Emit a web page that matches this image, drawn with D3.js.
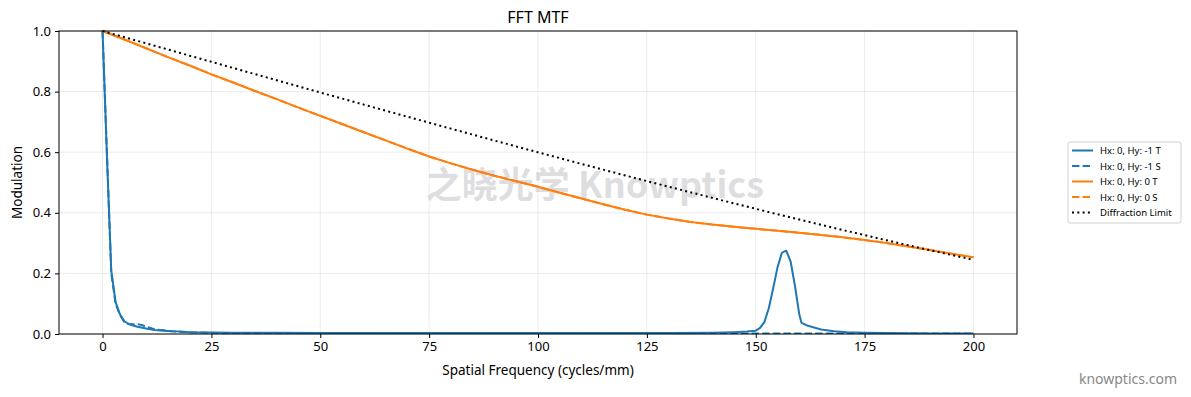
<!DOCTYPE html>
<html>
<head>
<meta charset="utf-8">
<script src="https://cdn.jsdelivr.net/npm/d3@7"></script>
<style>
  body { margin: 0; background: #fff; }
  svg { display: block; font-family: "Noto Sans", "Open Sans", sans-serif; }
</style>
</head>
<body>
<svg id="chart" width="1191" height="397"></svg>
<script>
// ---------- data ----------
const xTicks = [0, 25, 50, 75, 100, 125, 150, 175, 200];
const yTicks = [0.0, 0.2, 0.4, 0.6, 0.8, 1.0];

const seriesNames = ["Hx: 0, Hy: -1 T", "Hx: 0, Hy: -1 S", "Hx: 0, Hy: 0 T", "Hx: 0, Hy: 0 S", "Diffraction Limit"];

const blueTFreq = [0, 1, 2, 3, 4, 5, 6, 7, 8, 10, 12, 14, 16, 18, 20, 25, 30, 40, 50, 60, 70, 80, 90, 100, 110, 120, 130, 140, 145, 148, 150, 151, 152, 153, 154, 155, 156, 157, 158, 159, 160, 160.5, 162, 165, 168, 171, 175, 180, 190, 200];
const blueTVals = [1.0, 0.59, 0.21, 0.105, 0.065, 0.042, 0.033, 0.028, 0.024, 0.018, 0.013, 0.011, 0.009, 0.008, 0.006, 0.005, 0.004, 0.004, 0.003, 0.003, 0.003, 0.003, 0.003, 0.003, 0.003, 0.003, 0.003, 0.004, 0.006, 0.008, 0.011, 0.02, 0.04, 0.085, 0.15, 0.22, 0.268, 0.275, 0.24, 0.16, 0.065, 0.037, 0.027, 0.015, 0.009, 0.006, 0.004, 0.003, 0.002, 0.002];

const blueSFreq = [0, 1, 2, 3, 4, 5, 6, 7, 8, 9, 10, 11, 12, 14, 16, 18, 20, 25, 30, 40, 60, 80, 100, 120, 140, 160, 180, 200];
const blueSVals = [1.0, 0.6, 0.2, 0.1, 0.062, 0.04, 0.033, 0.032, 0.032, 0.03, 0.024, 0.02, 0.015, 0.012, 0.009, 0.007, 0.006, 0.004, 0.003, 0.003, 0.002, 0.002, 0.002, 0.002, 0.002, 0.002, 0.002, 0.002];

const orangeFreq = [0, 5, 10, 15, 20, 25, 30, 35, 40, 45, 50, 55, 60, 65, 70, 75, 80, 85, 90, 95, 100, 105, 110, 115, 120, 125, 130, 135, 140, 145, 150, 155, 160, 165, 170, 175, 180, 185, 190, 195, 200];
const orangeTVals = [1.0, 0.972, 0.943, 0.914, 0.886, 0.857, 0.83, 0.802, 0.775, 0.747, 0.72, 0.693, 0.666, 0.639, 0.612, 0.586, 0.563, 0.542, 0.522, 0.504, 0.486, 0.466, 0.447, 0.428, 0.41, 0.394, 0.381, 0.37, 0.361, 0.354, 0.347, 0.341, 0.334, 0.327, 0.319, 0.31, 0.3, 0.289, 0.277, 0.265, 0.253];
const orangeSVals = [1.0, 0.972, 0.943, 0.914, 0.886, 0.857, 0.83, 0.802, 0.775, 0.747, 0.72, 0.693, 0.666, 0.639, 0.612, 0.586, 0.563, 0.542, 0.522, 0.504, 0.486, 0.466, 0.447, 0.428, 0.41, 0.394, 0.381, 0.37, 0.361, 0.354, 0.347, 0.341, 0.334, 0.327, 0.319, 0.31, 0.3, 0.289, 0.277, 0.265, 0.253];

const diffFreq = [0, 10, 20, 30, 40, 50, 60, 70, 80, 90, 100, 110, 120, 130, 140, 150, 160, 170, 180, 190, 200];
const diffVals = [1.0, 0.9593, 0.9186, 0.8779, 0.8375, 0.7971, 0.757, 0.7172, 0.6777, 0.6384, 0.5996, 0.5613, 0.5234, 0.486, 0.4493, 0.4132, 0.3778, 0.3432, 0.3095, 0.2766, 0.2448];

// ---------- layout ----------
const svg = d3.select("#chart");
const margin = { left: 59, right: 1017, top: 31, bottom: 334 };

const x = d3.scaleLinear().domain([-10, 210]).range([margin.left, margin.right]);
const y = d3.scaleLinear().domain([0, 1]).range([margin.bottom, margin.top]);

// grid
const grid = svg.append("g");
grid.selectAll("line.vx").data(xTicks).enter().append("line")
  .attr("x1", d => x(d)).attr("x2", d => x(d))
  .attr("y1", margin.top).attr("y2", margin.bottom)
  .attr("stroke", "#b0b0b0").attr("stroke-opacity", 0.3).attr("stroke-width", 0.8);
grid.selectAll("line.hy").data(yTicks).enter().append("line")
  .attr("x1", margin.left).attr("x2", margin.right)
  .attr("y1", d => y(d)).attr("y2", d => y(d))
  .attr("stroke", "#b0b0b0").attr("stroke-opacity", 0.3).attr("stroke-width", 0.8);

// watermark
svg.append("text")
  .attr("x", 595).attr("y", 198)
  .attr("text-anchor", "middle")
  .attr("font-size", 36).attr("font-weight", "bold")
  .attr("fill", "#c8c8cc").attr("fill-opacity", 0.6)
  .attr("font-family", "'Noto Sans CJK SC', 'Noto Sans', sans-serif")
  .text("之晓光学 Knowptics");

// clip
svg.append("clipPath").attr("id", "clip").append("rect")
  .attr("x", margin.left).attr("y", margin.top - 2)
  .attr("width", margin.right - margin.left).attr("height", margin.bottom - margin.top + 2);

const line = d3.line().x(d => x(d[0])).y(d => y(d[1]));
const zip = (a, b) => a.map((v, i) => [v, b[i]]);

const series = [
  { name: seriesNames[0], data: zip(blueTFreq, blueTVals), color: "#1f77b4", dash: null },
  { name: seriesNames[1], data: zip(blueSFreq, blueSVals), color: "#1f77b4", dash: "7.4,3.2" },
  { name: seriesNames[2], data: zip(orangeFreq, orangeTVals), color: "#ff7f0e", dash: null },
  { name: seriesNames[3], data: zip(orangeFreq, orangeSVals), color: "#ff7f0e", dash: "7.4,3.2" },
  { name: seriesNames[4], data: zip(diffFreq, diffVals), color: "#000000", dash: "2,3.3" }
];

const plot = svg.append("g").attr("clip-path", "url(#clip)");
series.forEach(s => {
  plot.append("path")
    .attr("d", line(s.data))
    .attr("fill", "none")
    .attr("stroke", s.color)
    .attr("stroke-width", 2)
    .attr("stroke-dasharray", s.dash)
    .attr("stroke-linejoin", "round");
});

// axes
const xAxis = d3.axisBottom(x).tickValues(xTicks).tickFormat(d3.format("d")).tickSize(4).tickPadding(4);
const yAxis = d3.axisLeft(y).tickValues(yTicks).tickFormat(d3.format(".1f")).tickSize(4).tickPadding(4);

const gx = svg.append("g").attr("transform", `translate(0,${margin.bottom})`).call(xAxis);
const gy = svg.append("g").attr("transform", `translate(${margin.left},0)`).call(yAxis);
[gx, gy].forEach(g => {
  g.select(".domain").remove();
  g.selectAll("text").attr("font-size", 13).attr("fill", "#000").attr("font-family", "'Noto Sans', sans-serif");
  g.selectAll("line").attr("stroke", "#000");
});

// frame
svg.append("rect")
  .attr("x", margin.left).attr("y", margin.top)
  .attr("width", margin.right - margin.left).attr("height", margin.bottom - margin.top)
  .attr("fill", "none").attr("stroke", "#000").attr("stroke-width", 1);

// title and labels
svg.append("text").attr("x", (margin.left + margin.right) / 2).attr("y", 23)
  .attr("text-anchor", "middle").attr("font-size", 16).text("FFT MTF");
svg.append("text").attr("x", (margin.left + margin.right) / 2).attr("y", 375)
  .attr("text-anchor", "middle").attr("font-size", 13.5).text("Spatial Frequency (cycles/mm)");
svg.append("text").attr("transform", `translate(22,${(margin.top + margin.bottom) / 2}) rotate(-90)`)
  .attr("text-anchor", "middle").attr("font-size", 13.5).text("Modulation");

// legend
const lg = svg.append("g").attr("transform", "translate(1068,142)");
lg.append("rect").attr("x", 0).attr("y", 0).attr("width", 113).attr("height", 81)
  .attr("fill", "#fff").attr("stroke", "#d0d0d0").attr("rx", 2);
series.forEach((s, i) => {
  const yy = 8.5 + i * 15.5;
  lg.append("line").attr("x1", 4).attr("x2", 25).attr("y1", yy).attr("y2", yy)
    .attr("stroke", s.color).attr("stroke-width", 2).attr("stroke-dasharray", s.dash);
  lg.append("text").attr("x", 32).attr("y", yy + 3.5).attr("font-size", 9.5).text(s.name);
});

// footer
svg.append("text").attr("x", 1177).attr("y", 384).attr("text-anchor", "end")
  .attr("font-size", 14).attr("fill", "#888").text("knowptics.com");
</script>
</body>
</html>
